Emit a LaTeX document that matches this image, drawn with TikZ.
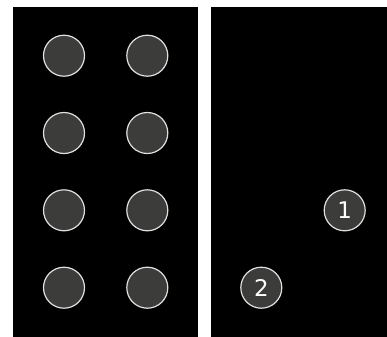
\documentclass[tikz,border=0pt]{standalone}
\usepackage{fontspec}
\setmainfont{DejaVu Sans}
\usepackage{tikz}
\definecolor{padgray}{HTML}{3C3D3B}
\tikzset{
    pad/.style={circle, draw=white!88!black, fill=padgray, line width=1.2bp,
        minimum size=41bp, inner sep=0pt, text=white, font=\fontsize{23}{26}\selectfont}
}

\begin{document}
\begin{tikzpicture}[x=1bp, y=-1bp]
    \useasboundingbox (0,0) rectangle (387,337);
    \fill[white] (0,0) rectangle (387,337);

    % Panels
    \fill[black] (13,7) rectangle (198,337);
    \fill[black] (211,7) rectangle (387,337);

    % Left grid of pads
    \foreach \y [count=\r] in {55.7, 133, 210.3, 287.7} {
        \node[pad] (left-\r) at (64, \y) {};
        \node[pad] (right-\r) at (147.3, \y) {};
    }

    % Numbered pads
    \node[pad] (one) at (344.7, 210.3) {1};
    \node[pad] (two) at (261.3, 287.7) {2};
\end{tikzpicture}
\end{document}
